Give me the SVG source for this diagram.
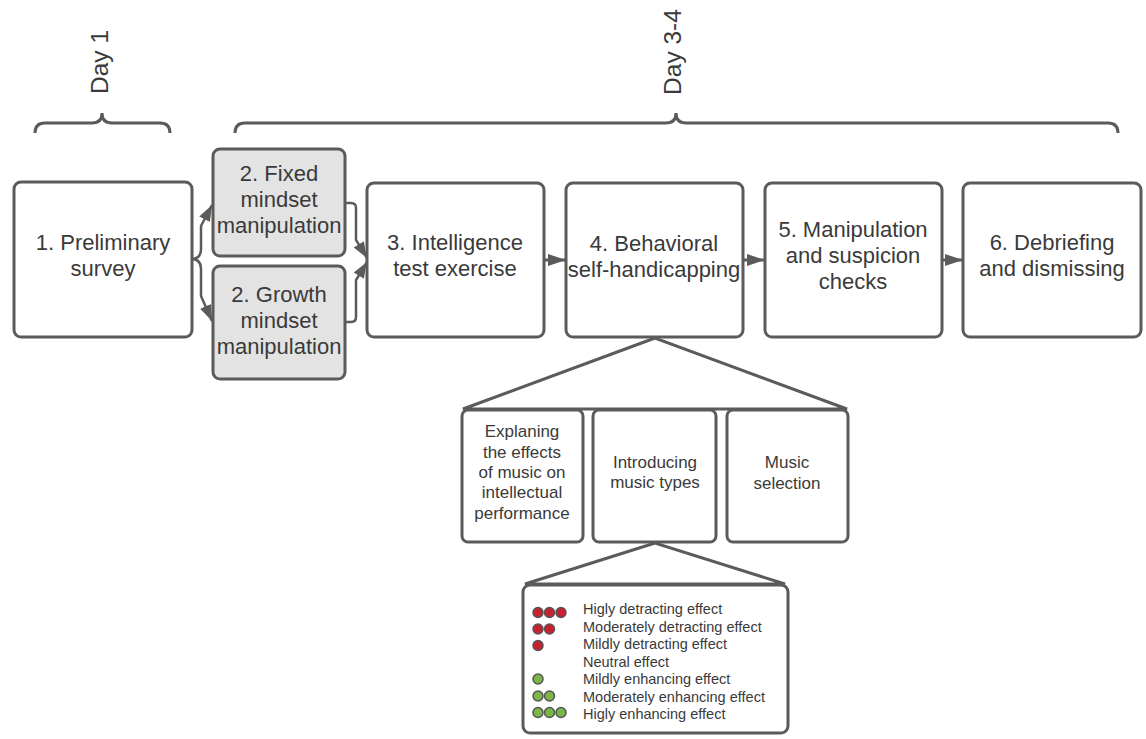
<svg xmlns="http://www.w3.org/2000/svg" width="1146" height="739" viewBox="0 0 1146 739">
<defs>
<style>
.box{fill:#ffffff;stroke:#5b5b5b;stroke-width:3}
.gbox{fill:#e3e3e3;stroke:#5b5b5b;stroke-width:3}
.ln{fill:none;stroke:#5b5b5b;stroke-width:3}
.thin{fill:none;stroke:#5b5b5b;stroke-width:2.5}
.t{font-family:"Liberation Sans",Arial,sans-serif;font-size:22px;fill:#3a3a3a;text-anchor:middle}
.s{font-family:"Liberation Sans",Arial,sans-serif;font-size:17px;fill:#3a3a3a;text-anchor:middle}
.l{font-family:"Liberation Sans",Arial,sans-serif;font-size:14.5px;fill:#3a3a3a}
.day{font-family:"Liberation Sans",Arial,sans-serif;font-size:24.5px;fill:#3a3a3a;text-anchor:middle}
.red{fill:#c8202e;stroke:#555;stroke-width:1.5}
.grn{fill:#7ab648;stroke:#555;stroke-width:1.5}
</style>
<marker id="ah" viewBox="0 0 18 12" refX="18" refY="6" markerWidth="18" markerHeight="12" markerUnits="userSpaceOnUse" orient="auto">
<path d="M0,0 L18,6 L0,12 Z" fill="#5b5b5b"/>
</marker>
<marker id="ahs" viewBox="0 0 16 12" refX="16" refY="6" markerWidth="16" markerHeight="12" markerUnits="userSpaceOnUse" orient="auto">
<path d="M0,0 L16,6 L0,12 Z" fill="#5b5b5b"/>
</marker>
</defs>
<rect width="1146" height="739" fill="#ffffff"/>

<g id="brace-day1">
<path class="ln" d="M35,133 Q35,123 45,123 H92 Q102,123 102,113 Q102,123 112,123 H160 Q170,123 170,133"/>
<text class="day" transform="translate(108,62) rotate(-90)">Day 1</text>
</g>
<g id="brace-day34">
<path class="ln" d="M235,133 Q235,123 245,123 H666 Q676,123 676,113 Q676,123 686,123 H1108 Q1118,123 1118,133"/>
<text class="day" transform="translate(681,52) rotate(-90)">Day 3-4</text>
</g>

<g id="connectors">
<path class="thin" d="M191,259 Q201,259 201,249 V226 L212,205" marker-end="url(#ahs)"/>
<path class="thin" d="M191,259 Q201,259 201,269 V296 L212,321" marker-end="url(#ahs)"/>
<path class="thin" d="M345,203 H351 Q356,203 356,208 V240 L367,258" marker-end="url(#ahs)"/>
<path class="thin" d="M345,322 H351 Q356,322 356,317 V280 L367,262" marker-end="url(#ahs)"/>
<path class="ln" d="M544,260 H566" marker-end="url(#ah)"/>
<path class="ln" d="M743,260 H765" marker-end="url(#ah)"/>
<path class="ln" d="M942,260 H963" marker-end="url(#ah)"/>
<path class="ln" d="M655,338 L463,409 H847 Z"/>
<path class="ln" d="M655,543 L525,584 H785 Z"/>
</g>

<g id="n1">
<rect class="box" x="14" y="182" width="178" height="155" rx="7"/>
<text class="t" x="103" y="250">1. Preliminary</text>
<text class="t" x="103" y="276">survey</text>
</g>
<g id="n2a">
<rect class="gbox" x="213" y="149" width="132" height="107" rx="7"/>
<text class="t" x="279" y="181">2. Fixed</text>
<text class="t" x="279" y="207">mindset</text>
<text class="t" x="279" y="233">manipulation</text>
</g>
<g id="n2b">
<rect class="gbox" x="213" y="266" width="132" height="113" rx="7"/>
<text class="t" x="279" y="302">2. Growth</text>
<text class="t" x="279" y="328">mindset</text>
<text class="t" x="279" y="354">manipulation</text>
</g>
<g id="n3">
<rect class="box" x="367" y="183" width="177" height="154" rx="7"/>
<text class="t" x="455" y="250">3. Intelligence</text>
<text class="t" x="455" y="276">test exercise</text>
</g>
<g id="n4">
<rect class="box" x="566" y="183" width="177" height="154" rx="7"/>
<text class="t" x="654" y="251">4. Behavioral</text>
<text class="t" x="654" y="277">self-handicapping</text>
</g>
<g id="n5">
<rect class="box" x="765" y="183" width="177" height="154" rx="7"/>
<text class="t" x="853" y="237">5. Manipulation</text>
<text class="t" x="853" y="263">and suspicion</text>
<text class="t" x="853" y="289">checks</text>
</g>
<g id="n6">
<rect class="box" x="963" y="183" width="178" height="154" rx="7"/>
<text class="t" x="1052" y="250">6. Debriefing</text>
<text class="t" x="1052" y="276">and dismissing</text>
</g>

<g id="sub1">
<rect class="box" x="462" y="410" width="121" height="132" rx="6"/>
<text class="s" x="522" y="437">Explaning</text>
<text class="s" x="522" y="458">the effects</text>
<text class="s" x="522" y="478">of music on</text>
<text class="s" x="522" y="498">intellectual</text>
<text class="s" x="522" y="519">performance</text>
</g>
<g id="sub2">
<rect class="box" x="593" y="410" width="123" height="132" rx="6"/>
<text class="s" x="655" y="468">Introducing</text>
<text class="s" x="655" y="488">music types</text>
</g>
<g id="sub3">
<rect class="box" x="727" y="410" width="121" height="132" rx="6"/>
<text class="s" x="787" y="468">Music</text>
<text class="s" x="787" y="489">selection</text>
</g>

<g id="legend">
<rect class="box" x="523" y="585" width="265" height="148" rx="7"/>
<circle class="red" cx="538" cy="612.5" r="5"/><circle class="red" cx="549.5" cy="612.5" r="5"/><circle class="red" cx="561" cy="612.5" r="5"/>
<circle class="red" cx="538" cy="629" r="5"/><circle class="red" cx="549.5" cy="629" r="5"/>
<circle class="red" cx="538" cy="645.5" r="5"/>
<circle class="grn" cx="538" cy="679" r="5"/>
<circle class="grn" cx="538" cy="696" r="5"/><circle class="grn" cx="549.5" cy="696" r="5"/>
<circle class="grn" cx="538" cy="712.5" r="5"/><circle class="grn" cx="549.5" cy="712.5" r="5"/><circle class="grn" cx="561" cy="712.5" r="5"/>
<text class="l" x="583" y="614">Higly detracting effect</text>
<text class="l" x="583" y="632">Moderately detracting effect</text>
<text class="l" x="583" y="649">Mildly detracting effect</text>
<text class="l" x="583" y="667">Neutral effect</text>
<text class="l" x="583" y="684">Mildly enhancing effect</text>
<text class="l" x="583" y="702">Moderately enhancing effect</text>
<text class="l" x="583" y="719">Higly enhancing effect</text>
</g>
</svg>
